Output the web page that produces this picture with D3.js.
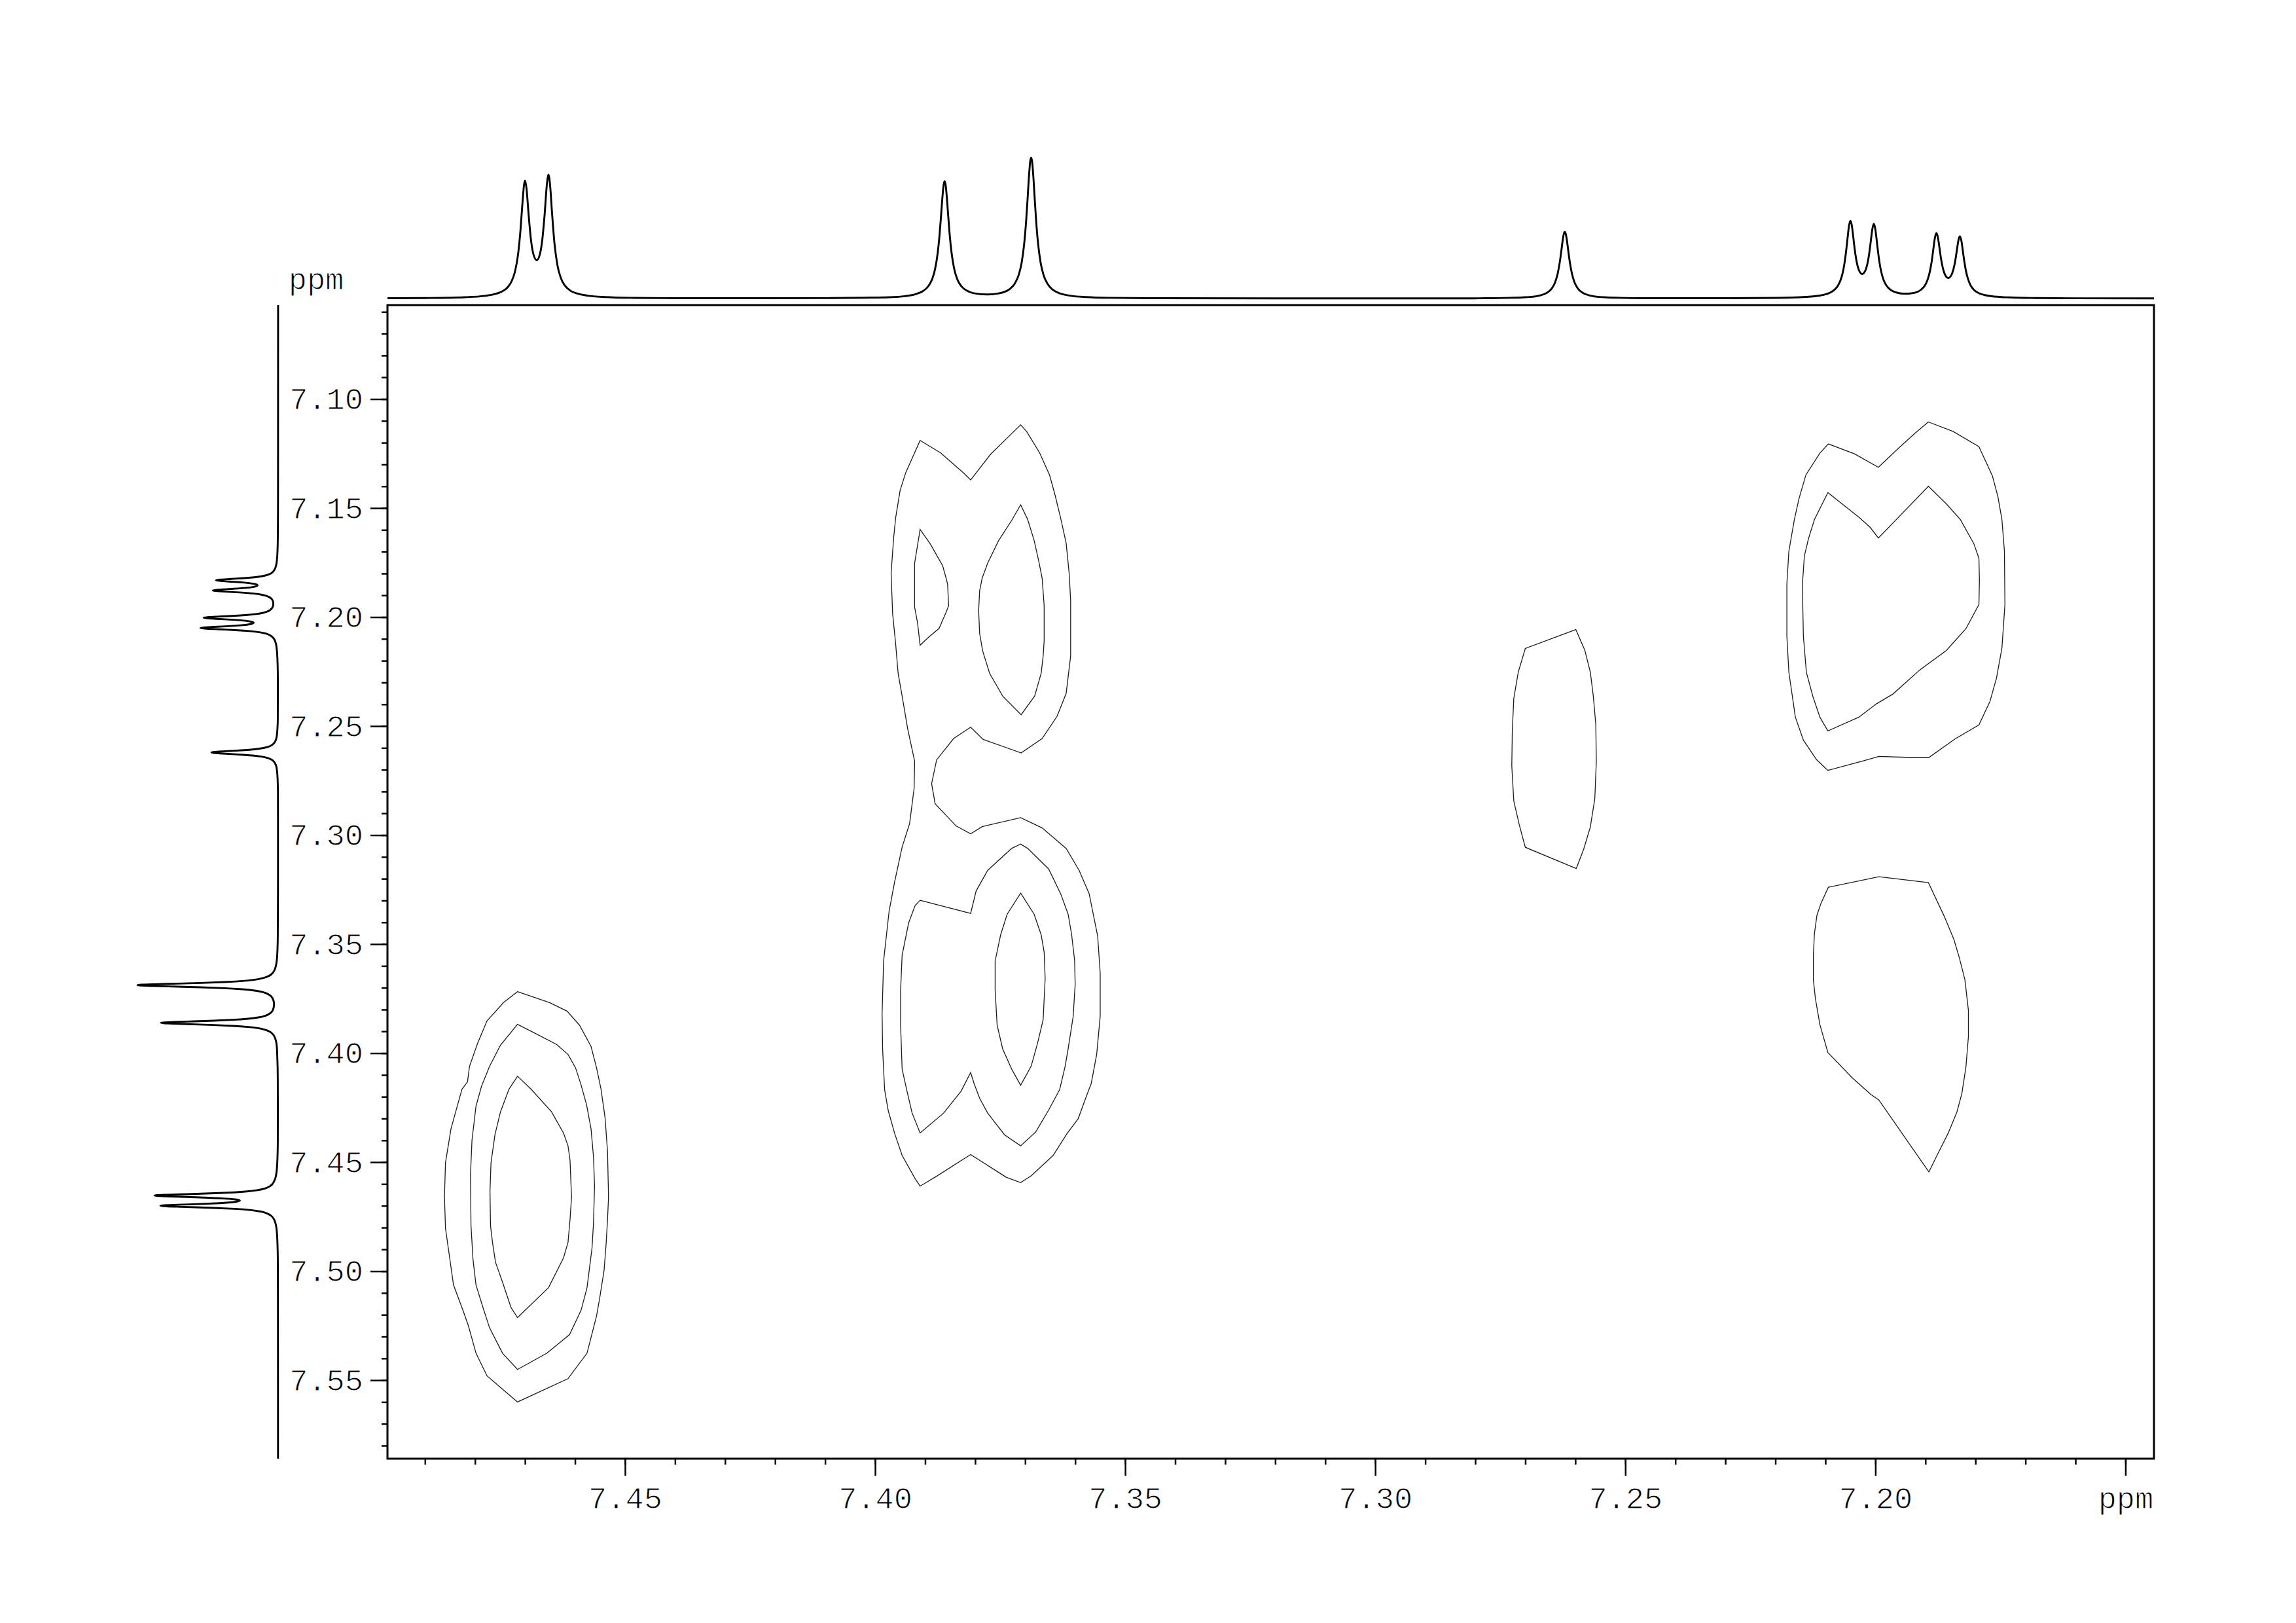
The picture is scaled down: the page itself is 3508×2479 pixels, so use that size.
<!DOCTYPE html>
<html><head><meta charset="utf-8">
<script src="https://cdn.jsdelivr.net/npm/d3@7"></script>
<style>
html,body{margin:0;padding:0;background:#fff;}
svg{display:block;background:#fff;}
text{font-family:"Liberation Mono","DejaVu Sans Mono",monospace;fill:#000;}
</style></head><body>
<svg id="chart" width="3508" height="2479"></svg>
<script>
// ---------------- data ----------------
const xDomain = [7.4975, 7.1443];          // F2 (ppm), reversed
const yDomain = [7.0569, 7.5860];          // F1 (ppm), downward
const xMajorTicks = [7.45, 7.40, 7.35, 7.30, 7.25, 7.20, 7.15];
const xTickLabels = ["7.45", "7.40", "7.35", "7.30", "7.25", "7.20", "ppm"];
const yMajorTicks = [7.10, 7.15, 7.20, 7.25, 7.30, 7.35, 7.40, 7.45, 7.50, 7.55];
const yTickLabels = ["7.10", "7.15", "7.20", "7.25", "7.30", "7.35", "7.40", "7.45", "7.50", "7.55"];
const unitLabel = "ppm";

// 1D projection trace: [ppm, relative intensity]
const spectrum = [
[7.5860,0.1],[7.5500,0.12],[7.5200,0.15],[7.4975,0.2],[7.4900,0.37],[7.4820,0.94],[7.4780,1.92],[7.4760,3.17],
[7.4745,5.19],[7.4735,7.94],[7.4727,12.1],[7.4720,19.2],[7.4714,31.1],[7.4709,48.8],[7.4705,68.3],[7.4702,80.6],
[7.4700,83.7],[7.4697,78.2],[7.4693,60.6],[7.4688,41.5],[7.4683,31.2],[7.46765,27.2],[7.4671,30.5],[7.4666,40.1],
[7.4661,58.6],[7.4656,82.0],[7.4653,87.9],[7.4650,81.1],[7.4646,61.1],[7.4641,38.9],[7.4635,23.4],[7.4628,14.3],
[7.4620,9.1],[7.4608,5.3],[7.4595,3.5],[7.4575,2.06],[7.4540,1.06],[7.4480,0.49],[7.4400,0.25],[7.4250,0.2],
[7.4100,0.3],[7.4020,0.6],[7.3971,0.95],[7.3941,1.7],[7.3919,3.1],[7.3904,5.35],[7.3894,8.6],[7.3886,13.7],
[7.3880,21.1],[7.3875,32.0],[7.3871,45.9],[7.3868,59.5],[7.3865,73.7],[7.3863,80.7],[7.3861,83.4],[7.3859,80.7],
[7.3857,73.7],[7.3854,59.5],[7.3851,45.9],[7.3847,32.2],[7.3842,21.3],[7.3836,14.0],[7.3828,8.95],[7.3818,5.9],
[7.3803,3.8],[7.3775,2.9],[7.3746,4.2],[7.3731,6.7],[7.3721,10.5],[7.3713,16.65],[7.3707,25.5],[7.3702,38.6],
[7.3698,55.2],[7.3695,71.55],[7.3692,88.65],[7.3690,97.15],[7.3688,100.0],[7.3686,97.1],[7.3684,88.6],[7.3681,71.5],
[7.3678,55.1],[7.3674,38.5],[7.3669,25.4],[7.3663,16.5],[7.3655,10.3],[7.3645,6.3],[7.3630,3.6],[7.3608,1.95],
[7.3578,1.05],[7.3528,0.5],[7.3450,0.25],[7.3200,0.12],[7.2950,0.12],[7.2800,0.15],[7.2781,0.2],[7.2731,0.5],
[7.2701,0.9],[7.2679,1.6],[7.2664,2.9],[7.2654,4.7],[7.2646,7.7],[7.2640,11.9],[7.2635,18.1],[7.2631,26.0],
[7.2628,33.7],[7.2625,41.9],[7.2623,45.9],[7.2621,47.4],[7.2619,45.9],[7.2617,41.9],[7.2614,33.7],[7.2611,26.0],
[7.2607,18.1],[7.2602,11.9],[7.2596,7.7],[7.2588,4.7],[7.2578,2.9],[7.2563,1.6],[7.2541,0.9],[7.2511,0.5],
[7.2461,0.25],[7.2300,0.2],[7.2200,0.48],[7.2150,0.95],[7.2125,1.5],[7.2110,2.2],[7.2100,2.96],[7.2090,4.3],
[7.2083,5.9],[7.2077,8.1],[7.2073,10.4],[7.2070,12.8],[7.2067,16.05],[7.2064,20.6],[7.2062,24.6],[7.2059,32.25],
[7.2057,38.5],[7.2055,45.1],[7.2053,51.05],[7.2050,55.3],[7.2047,51.6],[7.2045,46.1],[7.2043,39.9],[7.2040,31.5],
[7.2037,25.4],[7.2033,20.2],[7.20265,17.4],[7.2020,19.9],[7.2016,24.7],[7.2013,30.5],[7.2010,38.4],[7.2008,44.3],
[7.2006,49.5],[7.2003,53.0],[7.2000,49.0],[7.1998,43.35],[7.1996,37.0],[7.1993,28.5],[7.1990,21.9],[7.1986,15.8],
[7.1981,11.1],[7.1975,7.9],[7.1968,5.8],[7.1958,4.3],[7.1945,3.5],[7.1935,3.47],[7.1925,3.86],[7.1915,4.9],
[7.1908,6.5],[7.1902,8.8],[7.1897,12.1],[7.1893,16.4],[7.1890,21.1],[7.1887,27.4],[7.1884,35.5],[7.1881,43.1],
[7.1878,46.5],[7.1875,43.45],[7.1872,36.3],[7.1869,28.8],[7.1866,23.0],[7.1862,17.95],[7.18545,14.6],[7.1848,16.7],
[7.1844,20.7],[7.1841,25.5],[7.1838,32.1],[7.1835,39.3],[7.1833,42.9],[7.1831,44.2],[7.1828,40.9],[7.1825,33.5],
[7.1822,25.9],[7.1819,19.7],[7.1815,14.1],[7.1810,9.6],[7.1803,6.2],[7.1794,4.0],[7.1781,2.45],[7.1761,1.4],
[7.1731,0.78],[7.1680,0.38],[7.1600,0.18],[7.1443,0.1],[7.1200,0.08],[7.0569,0.05]
];

// 2D contour polygons: [F2 ppm, F1 ppm]
const contourLLOuter = [[7.4715,7.3718],[7.4651,7.3768],[7.4616,7.3807],[7.4591,7.3872],[7.4568,7.3969],[7.4557,7.4067],[7.4548,7.4165],[7.4540,7.4295],[7.4535,7.4451],[7.4533,7.4660],[7.4535,7.4764],[7.4538,7.4881],[7.4542,7.4998],[7.4551,7.5128],[7.4557,7.5206],[7.4576,7.5376],[7.4614,7.5493],[7.4715,7.5600],[7.4776,7.5480],[7.4798,7.5376],[7.4813,7.5252],[7.4824,7.5180],[7.4843,7.5063],[7.4859,7.4803],[7.4861,7.4659],[7.4859,7.4503],[7.4848,7.4347],[7.4826,7.4165],[7.4815,7.4132],[7.4811,7.4061],[7.4795,7.3956],[7.4776,7.3852],[7.4743,7.3768]];
const contourLLMid = [[7.4715,7.3868],[7.4684,7.3904],[7.4637,7.3960],[7.4614,7.4006],[7.4599,7.4067],[7.4588,7.4145],[7.4577,7.4236],[7.4568,7.4347],[7.4563,7.4477],[7.4561,7.4607],[7.4563,7.4777],[7.4566,7.4894],[7.4576,7.5076],[7.4588,7.5180],[7.4611,7.5291],[7.4656,7.5376],[7.4715,7.5451],[7.4745,7.5376],[7.4771,7.5259],[7.4784,7.5167],[7.4798,7.5063],[7.4804,7.4946],[7.4808,7.4790],[7.4809,7.4555],[7.4806,7.4399],[7.4798,7.4243],[7.4787,7.4152],[7.4771,7.4061],[7.4749,7.3963]];
const contourLLInner = [[7.4715,7.4106],[7.4688,7.4165],[7.4647,7.4269],[7.4623,7.4367],[7.4614,7.4425],[7.4610,7.4490],[7.4607,7.4660],[7.4610,7.4764],[7.4614,7.4868],[7.4623,7.4939],[7.4653,7.5076],[7.4715,7.5213],[7.4728,7.5167],[7.4745,7.5050],[7.4759,7.4959],[7.4765,7.4868],[7.4769,7.4790],[7.4770,7.4633],[7.4768,7.4503],[7.4760,7.4373],[7.4749,7.4269],[7.4732,7.4165]];
const contourMidOuter = [[7.3910,7.1190],[7.3869,7.1247],[7.3823,7.1339],[7.3809,7.1371],[7.3769,7.1253],[7.3709,7.1118],[7.3697,7.1149],[7.3671,7.1247],[7.3651,7.1350],[7.3640,7.1442],[7.3629,7.1546],[7.3618,7.1661],[7.3612,7.1799],[7.3609,7.1925],[7.3609,7.2178],[7.3612,7.2235],[7.3618,7.2350],[7.3636,7.2454],[7.3666,7.2557],[7.3708,7.2623],[7.3784,7.2561],[7.3809,7.2505],[7.3843,7.2557],[7.3877,7.2655],[7.3887,7.2764],[7.3880,7.2856],[7.3838,7.2958],[7.3809,7.2994],[7.3786,7.2961],[7.3709,7.2920],[7.3666,7.2967],[7.3618,7.3061],[7.3592,7.3162],[7.3572,7.3269],[7.3555,7.3463],[7.3550,7.3631],[7.3550,7.3832],[7.3557,7.4006],[7.3568,7.4140],[7.3577,7.4194],[7.3594,7.4301],[7.3616,7.4368],[7.3644,7.4469],[7.3688,7.4563],[7.3709,7.4594],[7.3738,7.4569],[7.3809,7.4465],[7.3876,7.4563],[7.3910,7.4610],[7.3920,7.4576],[7.3946,7.4469],[7.3961,7.4368],[7.3974,7.4261],[7.3981,7.4167],[7.3985,7.3980],[7.3986,7.3819],[7.3983,7.3577],[7.3972,7.3349],[7.3961,7.3215],[7.3946,7.3055],[7.3931,7.2947],[7.3922,7.2786],[7.3921,7.2661],[7.3935,7.2511],[7.3946,7.2362],[7.3954,7.2258],[7.3959,7.2121],[7.3965,7.1983],[7.3968,7.1799],[7.3963,7.1638],[7.3959,7.1546],[7.3950,7.1419],[7.3939,7.1339]];
const contourMidTri = [[7.3910,7.1598],[7.3889,7.1667],[7.3872,7.1736],[7.3865,7.1764],[7.3858,7.1822],[7.3855,7.1850],[7.3853,7.1948],[7.3858,7.1977],[7.3872,7.2052],[7.3893,7.2092],[7.3910,7.2129],[7.3915,7.2029],[7.3921,7.1954],[7.3921,7.1753]];
const contourMidTopInner = [[7.3709,7.1485],[7.3695,7.1552],[7.3682,7.1649],[7.3673,7.1741],[7.3666,7.1822],[7.3662,7.1948],[7.3662,7.2109],[7.3664,7.2178],[7.3668,7.2258],[7.3681,7.2362],[7.3708,7.2448],[7.3745,7.2362],[7.3771,7.2258],[7.3785,7.2155],[7.3791,7.2075],[7.3793,7.1971],[7.3791,7.1879],[7.3786,7.1822],[7.3775,7.1753],[7.3753,7.1649],[7.3727,7.1557]];
const contourMidLowMid = [[7.3910,7.3299],[7.3809,7.3359],[7.3798,7.3256],[7.3775,7.3162],[7.3727,7.3061],[7.3709,7.3041],[7.3695,7.3061],[7.3653,7.3155],[7.3629,7.3269],[7.3614,7.3363],[7.3607,7.3457],[7.3601,7.3577],[7.3600,7.3685],[7.3604,7.3832],[7.3614,7.3980],[7.3620,7.4060],[7.3631,7.4167],[7.3653,7.4261],[7.3679,7.4362],[7.3709,7.4425],[7.3741,7.4375],[7.3775,7.4275],[7.3791,7.4207],[7.3802,7.4140],[7.3809,7.4089],[7.3828,7.4174],[7.3863,7.4275],[7.3910,7.4366],[7.3926,7.4275],[7.3937,7.4167],[7.3946,7.4073],[7.3949,7.3872],[7.3949,7.3711],[7.3946,7.3551],[7.3933,7.3403],[7.3920,7.3323]];
const contourMidLowInner = [[7.3709,7.3266],[7.3682,7.3363],[7.3668,7.3457],[7.3662,7.3537],[7.3660,7.3658],[7.3664,7.3846],[7.3675,7.3953],[7.3688,7.4060],[7.3709,7.4147],[7.3727,7.4073],[7.3745,7.3980],[7.3756,7.3872],[7.3760,7.3711],[7.3760,7.3577],[7.3749,7.3457],[7.3736,7.3363]];
const contourSolvent = [[7.2599,7.2057],[7.2581,7.2152],[7.2570,7.2252],[7.2564,7.2363],[7.2559,7.2493],[7.2558,7.2663],[7.2561,7.2833],[7.2570,7.2963],[7.2583,7.3063],[7.2598,7.3153],[7.2700,7.3056],[7.2712,7.2953],[7.2723,7.2843],[7.2727,7.2683],[7.2726,7.2523],[7.2723,7.2373],[7.2714,7.2252],[7.2700,7.2144]];
const contourRightOuter = [[7.1894,7.1105],[7.1845,7.1148],[7.1793,7.1218],[7.1766,7.1353],[7.1755,7.1448],[7.1747,7.1553],[7.1742,7.1698],[7.1741,7.1942],[7.1747,7.2142],[7.1758,7.2281],[7.1771,7.2387],[7.1793,7.2495],[7.1841,7.2559],[7.1893,7.2644],[7.1928,7.2644],[7.1993,7.2639],[7.2024,7.2659],[7.2095,7.2703],[7.2118,7.2653],[7.2144,7.2564],[7.2160,7.2459],[7.2173,7.2253],[7.2177,7.2087],[7.2177,7.1848],[7.2173,7.1698],[7.2162,7.1553],[7.2153,7.1459],[7.2139,7.1348],[7.2111,7.1248],[7.2094,7.1206],[7.2042,7.1251],[7.1994,7.1313],[7.1954,7.1226],[7.1919,7.1153]];
const contourRightInner = [[7.1894,7.1400],[7.1858,7.1481],[7.1830,7.1553],[7.1803,7.1664],[7.1793,7.1731],[7.1792,7.1831],[7.1793,7.1942],[7.1819,7.2053],[7.1858,7.2153],[7.1911,7.2242],[7.1965,7.2353],[7.1998,7.2398],[7.2033,7.2459],[7.2095,7.2522],[7.2111,7.2459],[7.2125,7.2364],[7.2138,7.2253],[7.2144,7.2087],[7.2146,7.1853],[7.2142,7.1720],[7.2134,7.1642],[7.2122,7.1553],[7.2095,7.1429],[7.2033,7.1542],[7.2011,7.1587],[7.1994,7.1637],[7.1963,7.1564]];
const contourRightLower = [[7.1993,7.3191],[7.1894,7.3218],[7.1862,7.3374],[7.1843,7.3479],[7.1832,7.3564],[7.1821,7.3664],[7.1814,7.3804],[7.1814,7.3924],[7.1819,7.4064],[7.1827,7.4184],[7.1837,7.4270],[7.1854,7.4365],[7.1876,7.4465],[7.1893,7.4545],[7.1993,7.4215],[7.2009,7.4190],[7.2046,7.4114],[7.2095,7.3997],[7.2111,7.3869],[7.2120,7.3749],[7.2124,7.3664],[7.2124,7.3554],[7.2122,7.3454],[7.2117,7.3369],[7.2109,7.3314],[7.2094,7.3239]];
const contours = [contourLLOuter, contourLLMid, contourLLInner, contourMidOuter, contourMidTri, contourMidTopInner,
  contourMidLowMid, contourMidLowInner, contourSolvent, contourRightOuter, contourRightInner, contourRightLower];

// ---------------- layout ----------------
const L = 592, R = 3291, T = 466, B = 2228;
const topBase = 456, leftBase = 425, traceHeight = 215;
const FONT = 47;

const svg = d3.select("#chart");
svg.append("rect").attr("width", 3508).attr("height", 2479).attr("fill", "#fff");

const x = d3.scaleLinear().domain(xDomain).range([L, R]);
const y = d3.scaleLinear().domain(yDomain).range([T, B]);
const amp = d3.scaleLinear().domain([0, 100]).range([0, traceHeight]);

// thin-looking label style (white outline trims the glyph strokes)
function thinText(sel) {
  sel.attr("font-size", FONT)
     .attr("font-family", '"Liberation Mono", "DejaVu Sans Mono", monospace')
     .attr("fill", "#000")
     .attr("stroke", "#fff").attr("stroke-width", 1.1).attr("stroke-linejoin", "round");
}

// contours
const cLine = d3.line().x(d => x(d[0])).y(d => y(d[1])).curve(d3.curveLinearClosed);
svg.append("g")
  .selectAll("path").data(contours).join("path")
  .attr("d", cLine).attr("fill", "none").attr("stroke", "#1a1a1a").attr("stroke-width", 1.3);

// frame
svg.append("rect").attr("x", L).attr("y", T).attr("width", R - L).attr("height", B - T)
  .attr("fill", "none").attr("stroke", "#000").attr("stroke-width", 3);

// minor tick values (every 0.01 ppm)
const xMinor = d3.range(749, 714, -1).map(v => v / 100).filter(v => v <= xDomain[0] && v >= xDomain[1]);
const yMinor = d3.range(706, 759).map(v => v / 100).filter(v => v >= yDomain[0] && v <= yDomain[1]);

// bottom axis
const gx = svg.append("g").attr("transform", `translate(0,${B})`);
gx.append("g").call(d3.axisBottom(x).tickValues(xMinor).tickSize(9).tickSizeOuter(0).tickFormat(""))
  .call(g => g.select(".domain").remove());
gx.append("g").call(d3.axisBottom(x).tickValues(xMajorTicks).tickSize(26).tickSizeOuter(0).tickPadding(17)
    .tickFormat((d, i) => xTickLabels[i]))
  .call(g => g.select(".domain").remove())
  .call(g => g.selectAll("text").call(thinText));
gx.selectAll("line").attr("stroke", "#000").attr("stroke-width", 2.5);

// left axis
const gy = svg.append("g").attr("transform", `translate(${L},0)`);
gy.append("g").call(d3.axisLeft(y).tickValues(yMinor).tickSize(9).tickSizeOuter(0).tickFormat(""))
  .call(g => g.select(".domain").remove());
gy.append("g").call(d3.axisLeft(y).tickValues(yMajorTicks).tickSize(26).tickSizeOuter(0).tickPadding(11)
    .tickFormat((d, i) => yTickLabels[i]))
  .call(g => g.select(".domain").remove())
  .call(g => g.selectAll("text").call(thinText));
gy.selectAll("line").attr("stroke", "#000").attr("stroke-width", 2.5);

// left unit label
svg.append("text").attr("x", 483).attr("y", 442).attr("text-anchor", "middle")
  .call(thinText).text(unitLabel);

// top projection
const topData = spectrum.filter(d => d[0] <= xDomain[0] && d[0] >= xDomain[1]);
const topLine = d3.line().x(d => x(d[0])).y(d => topBase - amp(d[1])).curve(d3.curveMonotoneX);
svg.append("path").datum(topData).attr("d", topLine)
  .attr("fill", "none").attr("stroke", "#000").attr("stroke-width", 2.9).attr("stroke-linejoin", "round");

// left projection
const leftData = spectrum.filter(d => d[0] >= yDomain[0] && d[0] <= yDomain[1]).slice().sort((a, b) => a[0] - b[0]);
const leftLine = d3.line().x(d => leftBase - amp(d[1])).y(d => y(d[0])).curve(d3.curveMonotoneY);
svg.append("path").datum(leftData).attr("d", leftLine)
  .attr("fill", "none").attr("stroke", "#000").attr("stroke-width", 2.9).attr("stroke-linejoin", "round");
</script>
</body></html>
